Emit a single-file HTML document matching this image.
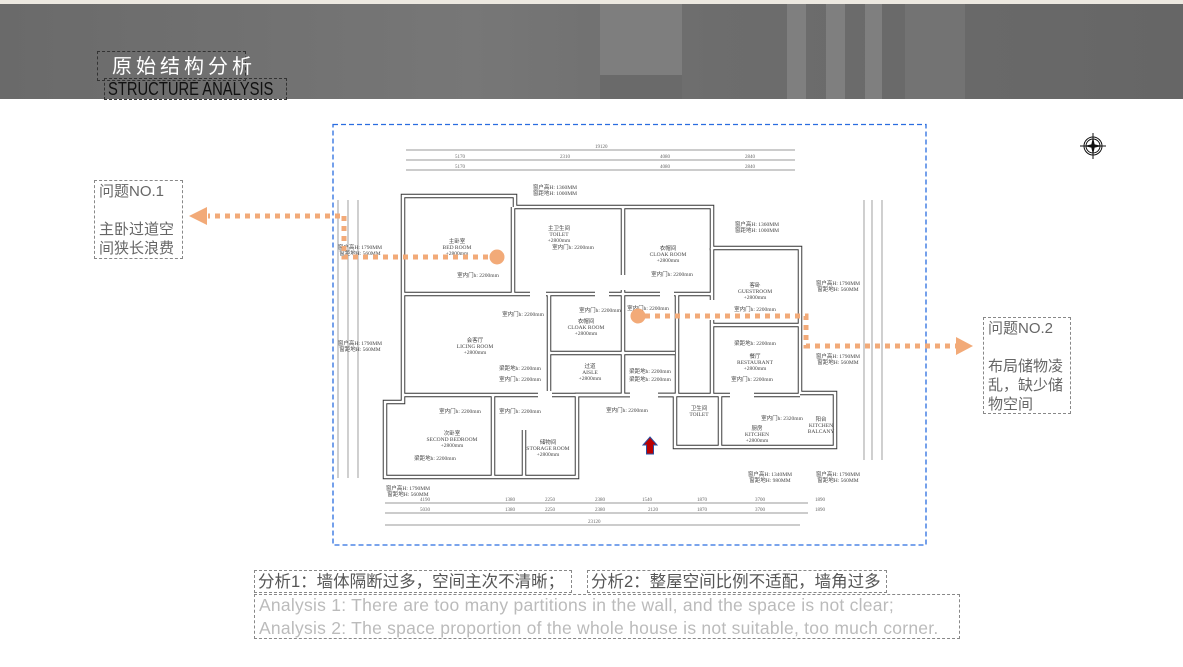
<!DOCTYPE html>
<html><head><meta charset="utf-8"><style>
body{margin:0;width:1183px;height:667px;overflow:hidden;background:#fff;position:relative;font-family:"Liberation Sans","Noto Sans CJK SC",sans-serif}
.a{position:absolute}
.box{position:absolute;border:1.5px dashed #888;box-sizing:border-box}
</style></head><body>
<div class="a" style="left:0;top:0;width:1183px;height:4px;background:#ece8e0"></div>
<div class="a" style="left:0;top:4px;width:1183px;height:95px;background:linear-gradient(90deg,#6a6a6a,#777 40%,#6d6d6d 60%,#666)"></div>
<div class="a" style="left:600px;top:4px;width:82px;height:71px;background:#7e7e7e"></div>
<div class="a" style="left:600px;top:75px;width:82px;height:24px;background:#6a6a6a"></div>
<div class="a" style="left:787px;top:4px;width:19px;height:95px;background:#7f7f7f"></div>
<div class="a" style="left:826px;top:4px;width:19px;height:95px;background:#7f7f7f"></div>
<div class="a" style="left:865px;top:4px;width:17px;height:95px;background:#7f7f7f"></div>
<div class="a" style="left:905px;top:4px;width:60px;height:95px;background:#737373"></div>
<div class="box" style="left:97px;top:51px;width:149px;height:30px;border-color:#333"></div>
<div class="a" style="left:112px;top:54px;color:#fff;font-size:20px;letter-spacing:4px;line-height:26px">原始结构分析</div>
<div class="box" style="left:104px;top:78px;width:183px;height:22px;border-color:#333"></div>
<div class="a" style="left:108px;top:79px;color:#111;font-size:18px;line-height:20px;transform:scaleX(.82);transform-origin:left;white-space:nowrap">STRUCTURE ANALYSIS</div>

<svg class="a" style="left:0;top:0" width="1183" height="667">
<rect x="333" y="124.5" width="593" height="420.5" fill="none" stroke="#2a6de0" stroke-width="1.3" stroke-dasharray="5,3"/>
<g stroke="#777" stroke-width="0.7" fill="none">
<line x1="406" y1="150" x2="795" y2="150"/><line x1="406" y1="160" x2="795" y2="160"/><line x1="406" y1="170" x2="795" y2="170"/>
<line x1="385" y1="503" x2="808" y2="503"/><line x1="385" y1="513" x2="808" y2="513"/><line x1="385" y1="525" x2="800" y2="525"/>
<line x1="338" y1="200" x2="338" y2="478"/><line x1="348" y1="200" x2="348" y2="478"/><line x1="358" y1="200" x2="358" y2="478"/>
<line x1="864" y1="200" x2="864" y2="460"/><line x1="872" y1="200" x2="872" y2="460"/><line x1="882" y1="200" x2="882" y2="460"/>
</g>
<g fill="#666" font-size="5" font-family="Liberation Serif">
<text x="595" y="148">19120</text><text x="455" y="158">5170</text><text x="560" y="158">2310</text><text x="660" y="158">4080</text><text x="745" y="158">2840</text>
<text x="455" y="168">5170</text><text x="660" y="168">4080</text><text x="745" y="168">2840</text>
<text x="420" y="501">4190</text><text x="505" y="501">1380</text><text x="545" y="501">2250</text><text x="595" y="501">2380</text><text x="642" y="501">1540</text><text x="697" y="501">1870</text><text x="755" y="501">3700</text><text x="815" y="501">1890</text>
<text x="420" y="511">5030</text><text x="505" y="511">1380</text><text x="545" y="511">2250</text><text x="595" y="511">2380</text><text x="648" y="511">2120</text><text x="697" y="511">1870</text><text x="755" y="511">3700</text><text x="815" y="511">1890</text>
<text x="588" y="523">23120</text>
</g>
<g fill="none" stroke-linejoin="miter">
<g stroke="#333" stroke-width="4.5">
<path d="M403 196 H515 V207 H712 V248 H800 V393 H835 V447 H675 V395 H577 V477 H385 V402 H403 Z"/>
<path d="M403 294 H712 M513 207 V294 M623 207 V395 M549 294 V395 M549 353 H675 M677 294 V395 M403 395 H800 M712 248 V395 M712 325 H800 M493 395 V477 M524 430 V477 M720 395 V447"/>
</g>
<g stroke="#fff" stroke-width="2.6">
<path d="M403 196 H515 V207 H712 V248 H800 V393 H835 V447 H675 V395 H577 V477 H385 V402 H403 Z"/>
<path d="M403 294 H712 M513 207 V294 M623 207 V395 M549 294 V395 M549 353 H675 M677 294 V395 M403 395 H800 M712 248 V395 M712 325 H800 M493 395 V477 M524 430 V477 M720 395 V447"/>
</g>
</g>
<g fill="#fff"><rect x="530" y="290" width="16" height="8"/><rect x="595" y="290" width="14" height="8"/><rect x="660" y="290" width="14" height="8"/><rect x="538" y="391" width="14" height="8"/><rect x="630" y="391" width="28" height="8"/><rect x="730" y="391" width="24" height="8"/><rect x="546" y="255" width="8" height="20"/><rect x="619" y="275" width="8" height="15"/><rect x="708" y="300" width="8" height="20"/></g>
<g fill="#444" font-size="5.5" font-family="Liberation Serif" text-anchor="middle">
<text x="457" y="243">主卧室</text><text x="457" y="249">BED ROOM</text><text x="457" y="255">+2800mm</text>
<text x="559" y="230">主卫生间</text><text x="559" y="236">TOILET</text><text x="559" y="242">+2800mm</text>
<text x="668" y="250">衣帽间</text><text x="668" y="256">CLOAK ROOM</text><text x="668" y="262">+2800mm</text>
<text x="755" y="287">客卧</text><text x="755" y="293">GUESTROOM</text><text x="755" y="299">+2800mm</text>
<text x="475" y="342">会客厅</text><text x="475" y="348">LICING ROOM</text><text x="475" y="354">+2800mm</text>
<text x="586" y="323">衣帽间</text><text x="586" y="329">CLOAK ROOM</text><text x="586" y="335">+2800mm</text>
<text x="590" y="368">过道</text><text x="590" y="374">AISLE</text><text x="590" y="380">+2800mm</text>
<text x="755" y="358">餐厅</text><text x="755" y="364">RESTAURANT</text><text x="755" y="370">+2800mm</text>
<text x="452" y="435">次卧室</text><text x="452" y="441">SECOND BEDROOM</text><text x="452" y="447">+2800mm</text>
<text x="548" y="444">储物间</text><text x="548" y="450">STORAGE ROOM</text><text x="548" y="456">+2800mm</text>
<text x="699" y="410">卫生间</text><text x="699" y="416">TOILET</text>
<text x="757" y="430">厨房</text><text x="757" y="436">KITCHEN</text><text x="757" y="442">+2800mm</text>
<text x="821" y="421">阳台</text><text x="821" y="427">KITCHEN</text><text x="821" y="433">BALCANY</text>
<text x="555" y="189">窗户高H: 1360MM</text><text x="555" y="195">窗距地H: 1000MM</text>
<text x="757" y="226">窗户高H: 1360MM</text><text x="757" y="232">窗距地H: 1000MM</text>
<text x="838" y="285">窗户高H: 1790MM</text><text x="838" y="291">窗距地H: 560MM</text>
<text x="838" y="358">窗户高H: 1790MM</text><text x="838" y="364">窗距地H: 560MM</text>
<text x="770" y="476">窗户高H: 1340MM</text><text x="770" y="482">窗距地H: 980MM</text>
<text x="838" y="476">窗户高H: 1790MM</text><text x="838" y="482">窗距地H: 560MM</text>
<text x="408" y="490">窗户高H: 1790MM</text><text x="408" y="496">窗距地H: 560MM</text>
<text x="478" y="277">室内门h: 2200mm</text><text x="573" y="249">室内门h: 2200mm</text><text x="672" y="276">室内门h: 2200mm</text>
<text x="523" y="316">室内门h: 2200mm</text><text x="600" y="312">室内门h: 2200mm</text><text x="648" y="310">室内门h: 2200mm</text>
<text x="755" y="311">室内门h: 2200mm</text><text x="755" y="345">梁距地h: 2200mm</text><text x="752" y="381">室内门h: 2200mm</text>
<text x="520" y="370">梁距地h: 2200mm</text><text x="520" y="381">室内门h: 2200mm</text>
<text x="650" y="373">梁距地h: 2200mm</text><text x="650" y="381">梁距地h: 2200mm</text>
<text x="460" y="413">室内门h: 2200mm</text><text x="520" y="413">室内门h: 2200mm</text><text x="627" y="412">室内门h: 2200mm</text>
<text x="435" y="460">梁距地h: 2200mm</text><text x="782" y="420">室内门h: 2320mm</text>
<text x="360" y="249">窗户高H: 1790MM</text><text x="360" y="255">窗距地H: 560MM</text>
<text x="360" y="345">窗户高H: 1790MM</text><text x="360" y="351">窗距地H: 560MM</text>
</g>
<path d="M650 437 L657 445 H653.5 V454 H646.5 V445 H643 Z" fill="#b00" stroke="#2a4fa0" stroke-width="1"/>
<g stroke="#111" fill="none" stroke-width="1"><circle cx="1093" cy="146" r="9"/><circle cx="1093" cy="146" r="7"/><line x1="1093" y1="133" x2="1093" y2="159"/><line x1="1080" y1="146" x2="1106" y2="146"/></g>
<path d="M1093 137 L1095 146 L1093 155 L1091 146 Z M1084 146 L1093 144 L1102 146 L1093 148 Z" fill="#111"/>
<g stroke="#f2aa78" stroke-width="5" fill="none" stroke-dasharray="5,5">
<path d="M340 216 H208"/><path d="M344 216 V257 H492"/>
<path d="M645 316 H806 V346 H958"/>
</g>
<g fill="#f2aa78">
<path d="M189 216 L207 207 V225 Z"/><path d="M973 346 L956 337 V355 Z"/>
<circle cx="497" cy="257" r="7.5"/><circle cx="638" cy="316" r="7.5"/>
</g>
</svg>

<div class="box" style="left:94px;top:180px;width:89px;height:79px"></div>
<div class="a" style="left:99px;top:182px;color:#666;font-size:15px;line-height:19px">问题NO.1<br><br>主卧过道空<br>间狭长浪费</div>
<div class="box" style="left:983px;top:317px;width:88px;height:97px"></div>
<div class="a" style="left:988px;top:319px;color:#666;font-size:15px;line-height:19px">问题NO.2<br><br>布局储物凌<br>乱，缺少储<br>物空间</div>

<div class="box" style="left:254px;top:570px;width:318px;height:23px"></div>
<div class="a" style="left:258px;top:572px;color:#555;font-size:16.5px;line-height:20px;white-space:nowrap">分析1：墙体隔断过多，空间主次不清晰；</div>
<div class="box" style="left:587px;top:570px;width:300px;height:23px"></div>
<div class="a" style="left:591px;top:572px;color:#555;font-size:16.5px;line-height:20px;white-space:nowrap">分析2：整屋空间比例不适配，墙角过多</div>
<div class="box" style="left:254px;top:594px;width:706px;height:45px"></div>
<div class="a" style="left:259px;top:594px;color:#bbb;font-size:17.5px;line-height:23px;white-space:nowrap;letter-spacing:.25px">Analysis 1: There are too many partitions in the wall, and the space is not clear;<br>Analysis 2: The space proportion of the whole house is not suitable, too much corner.</div>
</body></html>
